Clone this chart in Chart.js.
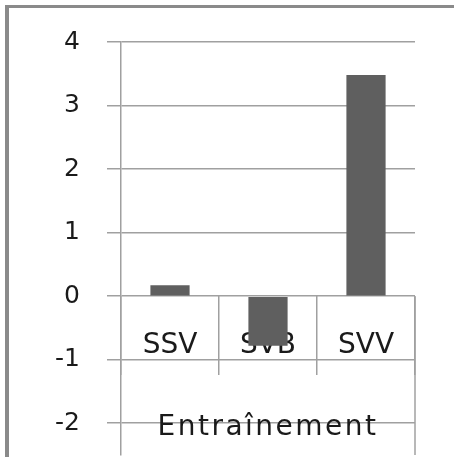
<!DOCTYPE html>
<html>
<head>
<meta charset="utf-8">
<script src="https://cdn.jsdelivr.net/npm/chart.js@4/dist/chart.umd.min.js"></script>
<style>
  body { margin: 0; background: #fff; }
  #wrap { position: relative; width: 454px; height: 457px; overflow: hidden; }
  #frame { position: absolute; left: 5px; top: 5px; width: 600px; height: 600px;
           border-left: 4px solid #8a8a8a; border-top: 3px solid #8a8a8a; }
  canvas { position: absolute; left: 0; top: 0; }
</style>
</head>
<body>
<div id="wrap">
  <div id="frame"></div>
  <!-- canvas runs a bit below the window so the axis lines reach the bottom edge -->
  <canvas id="chart" width="454" height="497"></canvas>
</div>
<script>
const categories = ['SSV', 'SVB', 'SVV'];
const values = [0.17, -0.78, 3.48];
const groupLabel = 'Entraînement';
const yMin = -2.5;
const yMax = 4;

const lineColor = '#a0a0a0';
const textFont = 'DejaVu Sans';

// draws the outer group row (long right edge + group name)
const groupRow = {
  id: 'groupRow',
  afterDraw(chart) {
    const ctx = chart.ctx;
    const x = chart.scales.x;
    const y = chart.scales.y;
    const zero = y.getPixelForValue(0);
    ctx.save();
    ctx.strokeStyle = lineColor;
    ctx.lineWidth = 1.5;
    ctx.beginPath();
    ctx.moveTo(x.right, zero);
    ctx.lineTo(x.right, chart.chartArea.bottom);
    ctx.stroke();
    ctx.fillStyle = '#1a1a1a';
    ctx.font = '28px "' + textFont + '"';
    ctx.letterSpacing = '2.5px';
    ctx.textAlign = 'center';
    ctx.textBaseline = 'alphabetic';
    ctx.fillText(groupLabel, (x.left + x.right) / 2, y.getPixelForValue(-2) + 12);
    ctx.restore();
  }
};

new Chart(document.getElementById('chart'), {
  type: 'bar',
  data: {
    labels: categories,
    datasets: [{
      data: values,
      backgroundColor: '#5f5f5f',
      categoryPercentage: 1,
      barPercentage: 0.4
    }]
  },
  plugins: [groupRow],
  options: {
    responsive: false,
    animation: false,
    layout: { padding: { left: 0, top: 42, right: 39, bottom: 5 } },
    plugins: { legend: { display: false }, tooltip: { enabled: false } },
    scales: {
      x: {
        type: 'category',
        position: { y: 0 },
        grid: { offset: true, drawOnChartArea: false, drawTicks: true, tickLength: 79, color: lineColor, lineWidth: 1.5 },
        border: { display: false },
        ticks: { padding: -46, color: '#1a1a1a', font: { family: textFont, size: 28 } }
      },
      y: {
        min: yMin,
        max: yMax,
        afterFit(scale) { scale.width = 121; },
        grid: { tickLength: 14, color: lineColor, lineWidth: 1.5 },
        border: { display: true, color: lineColor, width: 1.5 },
        ticks: { stepSize: 1, includeBounds: false, padding: 27, color: '#1a1a1a', font: { family: textFont, size: 25 } }
      }
    }
  }
});
</script>
</body>
</html>
